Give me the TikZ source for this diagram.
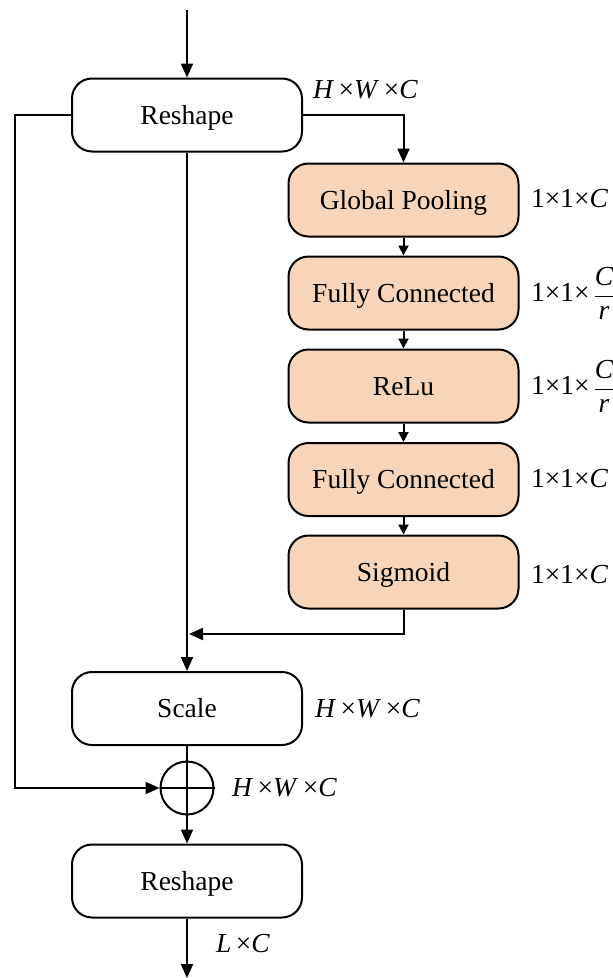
\documentclass[tikz,border=0pt]{standalone}
\usepackage{fontspec}
\setmainfont{Liberation Serif}
\usetikzlibrary{arrows.meta}
\definecolor{peach}{HTML}{F8D5B9}
\newcommand{\dimtxt}[3]{\textit{#1}\,×\textit{#2}\,×\textit{#3}}
\newcommand{\fr}[2]{$\displaystyle\,\frac{\textit{#1}\rule[-3pt]{0pt}{0pt}}{\rule{0pt}{17pt}\textit{#2}}$}
\begin{document}
\begin{tikzpicture}[x=1pt,y=-1pt,
  font=\fontsize{27.5}{32}\selectfont,
  line width=2pt,
  box/.style={draw,rounded corners=20pt,minimum width=230pt,minimum height=73pt,inner sep=0pt,line width=2pt,text height=18.5pt,text depth=0pt},
  obox/.style={box,fill=peach},
  lbl/.style={anchor=west,inner sep=0pt},
  arr/.style={-{Triangle[length=14pt,width=12pt]}},
  sarr/.style={-{Triangle[length=10pt,width=10pt]}}]
\useasboundingbox (0,0) rectangle (613,978);
\node[box] (r1) at (187,115) {Reshape};
\node[obox] (gp) at (403.5,200) {Global Pooling};
\node[obox] (fc1) at (403.5,293) {Fully Connected};
\node[obox] (relu) at (403.5,386) {ReLu};
\node[obox] (fc2) at (403.5,479.5) {Fully Connected};
\node[obox] (sig) at (403.5,572) {Sigmoid};
\node[box] (sc) at (187,708.5) {Scale};
\node[draw,circle,minimum size=53pt,inner sep=0pt] (plus) at (187,788) {};
\node[box] (r2) at (187,881) {Reshape};
\coordinate (top) at (187,10);
\coordinate (bot) at (187,978);
\coordinate (lt) at (15,115);
\coordinate (lb) at (15,788);
\coordinate (rt) at (403.5,115);
\coordinate (sb) at (403.5,634);
\coordinate (sm) at (189,634);
% connectors
\draw[arr] (top) -- (r1.north);
\draw[arr] (r1.east) -- (rt) -- (gp.north);
\draw[sarr] (gp.south) -- (fc1.north);
\draw[sarr] (fc1.south) -- (relu.north);
\draw[sarr] (relu.south) -- (fc2.north);
\draw[sarr] (fc2.south) -- (sig.north);
\draw[arr] (sig.south) -- (sb) -- (sm);
\draw[arr] (r1.south) -- (sc.north);
\draw (sc.south) -- (plus.north);
\draw (plus.north) -- (plus.south);
\draw (plus.west) -- (plus.east);
\draw[arr] (r1.west) -- (lt) -- (lb) -- (plus.west);
\draw[arr] (plus.south) -- (r2.north);
\draw[arr] (r2.south) -- (bot);
% labels
\node[lbl] (l1) at (312,90) {\dimtxt{H}{W}{C}};
\node[lbl] (l2) at (530,199) {1×1×\textit{C}};
\node[lbl] (l3) at (530,293) {1×1×\fr{C}{r}};
\node[lbl] (l4) at (530,386) {1×1×\fr{C}{r}};
\node[lbl] (l5) at (530,479) {1×1×\textit{C}};
\node[lbl] (l6) at (530,575) {1×1×\textit{C}};
\node[lbl] (l7) at (314,709) {\dimtxt{H}{W}{C}};
\node[lbl] (l8) at (231,788) {\dimtxt{H}{W}{C}};
\node[lbl] (l9) at (215,944) {\textit{L}\,×\textit{C}};
\end{tikzpicture}
\end{document}
